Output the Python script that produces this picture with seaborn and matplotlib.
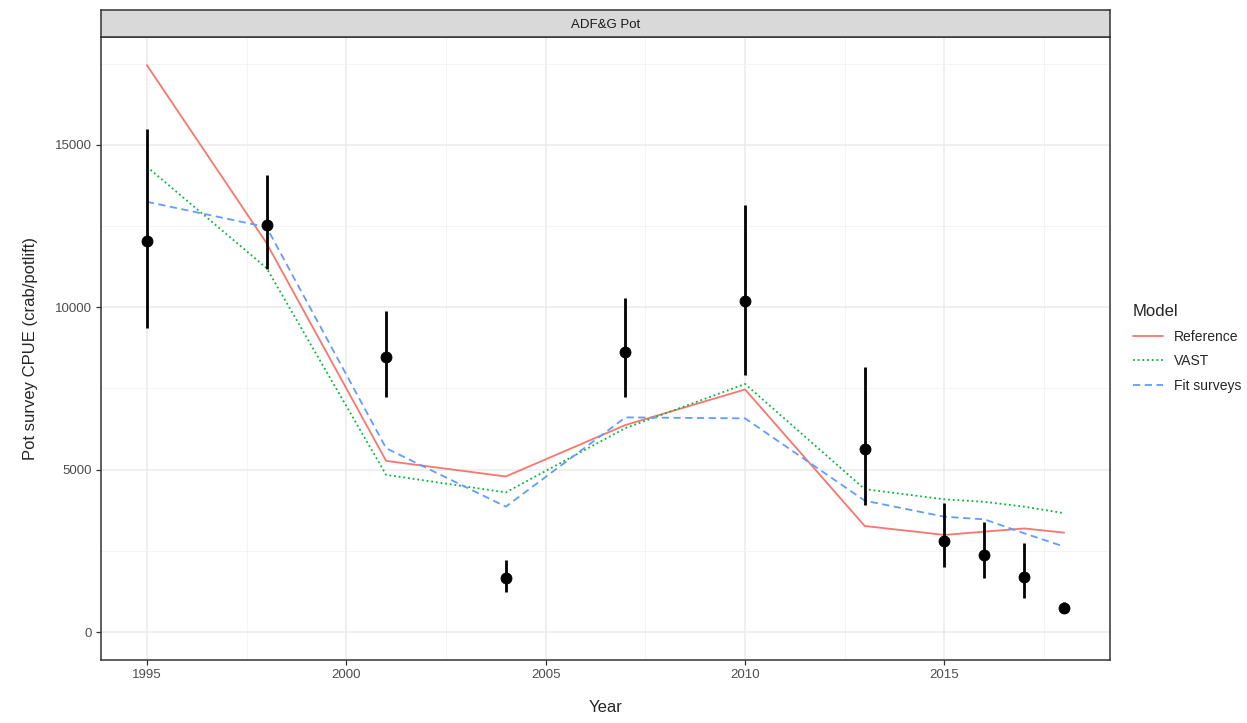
import matplotlib
matplotlib.use("Agg")
import matplotlib.pyplot as plt
from matplotlib.lines import Line2D
from matplotlib.ticker import MultipleLocator
import seaborn as sns
import pandas as pd

# observed survey index
obs_years = [1995, 1998, 2001, 2004, 2007, 2010, 2013, 2015, 2016, 2017, 2018]
obs_cpue = [12030, 12530, 8460, 1670, 8630, 10200, 5640, 2800, 2370, 1680, 730]
obs_lower = [9350, 11180, 7250, 1240, 7250, 7915, 3910, 1990, 1650, 1040, 600]
obs_upper = [15480, 14075, 9890, 2220, 10280, 13150, 8150, 3960, 3400, 2730, 930]

# model fits
ref_fit = [17460, 11980, 5270, 4790, 6375, 7470, 3265, 2990, 3090, 3190, 3060]
vast_fit = [14330, 11210, 4840, 4300, 6280, 7640, 4400, 4085, 4010, 3860, 3660]
surv_fit = [13250, 12470, 5660, 3860, 6610, 6580, 4045, 3550, 3470, 3040, 2630]

models = ["Reference", "VAST", "Fit surveys"]
colors = ["#F8766D", "#00BA38", "#619CFF"]
dashes = {"Reference": "", "VAST": (1, 1.6), "Fit surveys": (4, 2.5)}

fits = pd.DataFrame({
    "Year": obs_years * 3,
    "CPUE": ref_fit + vast_fit + surv_fit,
    "Model": [m for m in models for _ in obs_years],
})
obs = pd.DataFrame({"Year": obs_years, "CPUE": obs_cpue,
                    "lo": obs_lower, "hi": obs_upper})

sns.set_style("white")
plt.rcParams["font.family"] = ["Liberation Sans", "DejaVu Sans"]

fig = plt.figure(figsize=(12.47, 7.23), dpi=100)
ax = fig.add_axes([101 / 1247, 1 - 660 / 723, 1009 / 1247, 623 / 723])

sns.lineplot(data=fits, x="Year", y="CPUE", hue="Model", style="Model",
             hue_order=models, style_order=models, palette=colors,
             dashes=dashes, linewidth=1.3, ax=ax, legend=False)
ax.vlines(obs["Year"], obs["lo"], obs["hi"], color="black", linewidth=2, zorder=4)
sns.scatterplot(data=obs, x="Year", y="CPUE", color="black", s=62,
                edgecolor="black", zorder=5, ax=ax)

ax.set_xlim(1993.85, 2019.15)
ax.set_ylim(-862, 18325)
ax.set_xticks([1995, 2000, 2005, 2010, 2015])
ax.set_yticks([0, 5000, 10000, 15000])
ax.xaxis.set_minor_locator(MultipleLocator(2.5))
ax.yaxis.set_minor_locator(MultipleLocator(2500))
ax.grid(True, which="major", color="#EBEBEB", linewidth=1.1)
ax.grid(True, which="minor", color="#F2F2F2", linewidth=0.6)
ax.set_axisbelow(True)
for s in ax.spines.values():
    s.set_color("#333333")
    s.set_linewidth(1.1)
ax.tick_params(which="major", length=3.5, width=0.9, color="#333333",
               labelsize=9.5, labelcolor="#4D4D4D", pad=3, bottom=True, left=True)
ax.tick_params(which="minor", length=0)
ax.set_xlabel("Year", fontsize=12, labelpad=14)
ax.set_ylabel("Pot survey CPUE (crab/potlift)", fontsize=12, labelpad=12)

# facet strip
strip = fig.add_axes([101 / 1247, 1 - 37 / 723, 1009 / 1247, 27 / 723])
strip.set_facecolor("#D9D9D9")
strip.set_xticks([])
strip.set_yticks([])
for s in strip.spines.values():
    s.set_color("#333333")
    s.set_linewidth(1.1)
strip.text(0.5, 0.45, "ADF&G Pot", ha="center", va="center",
           fontsize=9.5, color="#1A1A1A", transform=strip.transAxes)

handles = [Line2D([0], [0], color=c, linewidth=1.3,
                  linestyle="-" if m == "Reference" else ((0, (1, 1.6)) if m == "VAST" else (0, (4, 2.5))))
           for m, c in zip(models, colors)]
leg = fig.legend(handles, models, title="Model", loc="upper left",
                 bbox_to_anchor=(1120 / 1247, 1 - 292 / 723), frameon=False,
                 fontsize=10, title_fontsize=12, handlelength=2.2,
                 labelspacing=0.75, alignment="left")

fig.savefig("out.png", dpi=100)
